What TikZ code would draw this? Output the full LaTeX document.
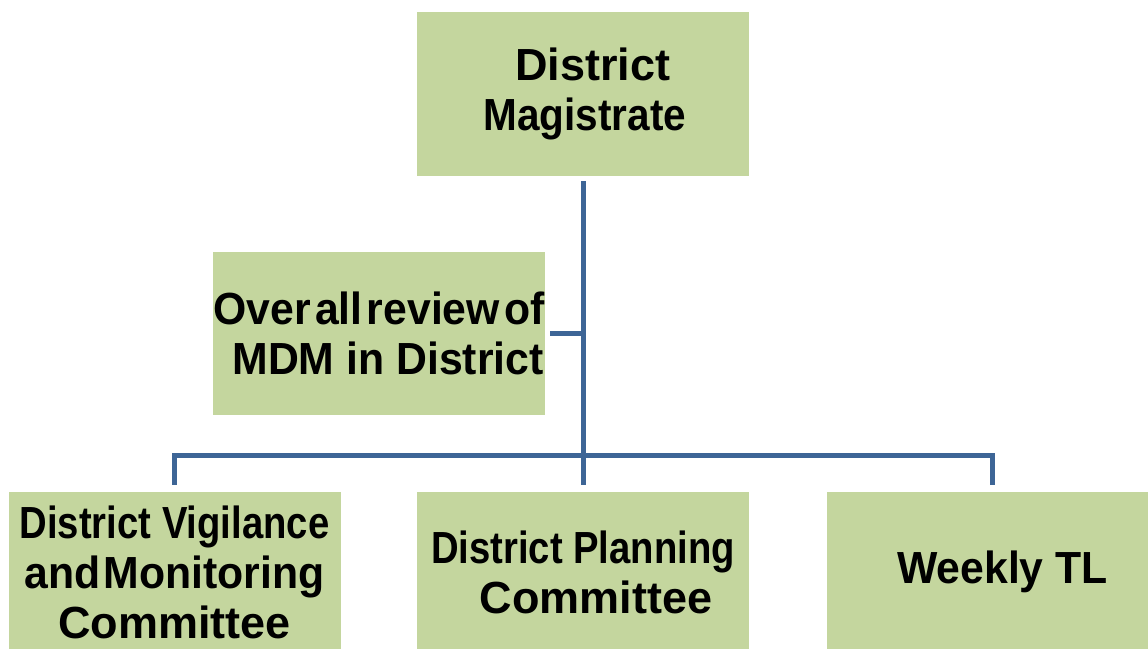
\documentclass[tikz,border=0pt]{standalone}
\usepackage{fontspec}
\usepackage{graphicx}
\setmainfont{Liberation Sans}
\definecolor{boxgreen}{HTML}{C4D69E}
\definecolor{lineblue}{HTML}{3D6596}
\tikzset{
  box/.style={rectangle, fill=boxgreen, draw=none, minimum width=332pt, inner sep=0pt,
    align=center, font=\fontsize{45}{50}\selectfont\bfseries, text=black},
  conn/.style={draw=lineblue, line width=5pt}
}
\begin{document}
\begin{tikzpicture}[x=1pt, y=-1pt]
\useasboundingbox (0,0) rectangle (1148,648);
\node[box, minimum height=164pt] (dm) at (583,94) {\hspace*{20pt}District\\\hspace*{4pt}\scalebox{0.9}[1]{Magistrate}};
\node[box, minimum height=163pt] (ov) at (379,333.5) {\scalebox{0.95}[1]{Over\hspace{0.1em}all\hspace{0.1em}review\hspace{0.1em}of}\\\hspace*{18pt}\scalebox{0.95}[1]{MDM in District}};
\node[box, minimum height=160pt] (dv) at (174.5,572) {\scalebox{0.85}[1]{District Vigilance}\\\scalebox{0.95}[1]{and\hspace{0.08em}Monitoring}\\Committee};
\node[box, minimum height=160pt] (dp) at (583,572) {\scalebox{0.85}[1]{District Planning}\\\hspace*{26pt}Committee};
\node[box, minimum height=160pt] (wt) at (992.5,572) {\hspace*{20pt}\scalebox{0.95}[1]{Weekly TL}};
\coordinate (h) at (583,455);
\draw[conn, shorten <=5pt, shorten >=7pt] (dm.south) -- (dp.north);
\draw[conn, shorten <=5pt] (ov.east) -- (ov.east -| dm.south);
\draw[conn] ([yshift=7pt]dv.north) |- (h) -| ([yshift=7pt]wt.north);
\end{tikzpicture}
\end{document}
